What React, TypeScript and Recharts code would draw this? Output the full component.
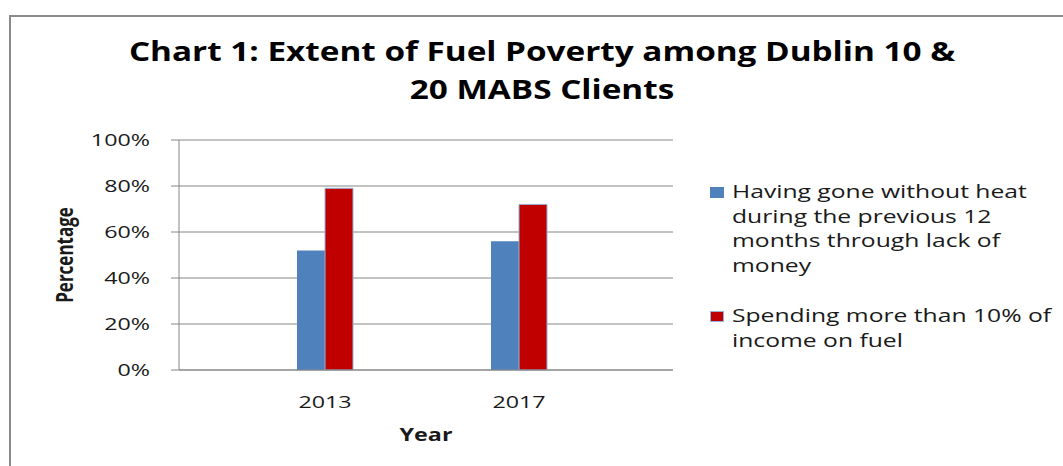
import { BarChart, Bar, XAxis, YAxis, CartesianGrid } from 'recharts';

const years = ['2013', '2017'];
const withoutHeat = [52, 56];
const overTenPercent = [79, 72];
const yTicks = [0, 20, 40, 60, 80, 100];
const seriesNames = [
  'Having gone without heat during the previous 12 months through lack of money',
  'Spending more than 10% of income on fuel',
];
const titleLines = ['Chart 1: Extent of Fuel Poverty among Dublin 10 &', '20 MABS Clients'];

const BLUE = '#4F81BD';
const RED = '#C00000';
const GRID = '#868686';
const TEXT = '#1a1a1a';
const FONT = '"Open Sans", sans-serif';
const STRETCH = 1.37;

const data = years.map((year, i) => ({
  year,
  withoutHeat: withoutHeat[i],
  overTenPercent: overTenPercent[i],
}));

const YTick = ({ x, y, payload }: any) => (
  <text
    transform={`translate(${x},${y}) scale(${STRETCH},1)`}
    textAnchor="end"
    dy="0.36em"
    fontFamily={FONT}
    fontSize={17}
    fill={TEXT}
  >
    {payload.value}%
  </text>
);

const XTick = ({ x, y, payload }: any) => (
  <text
    transform={`translate(${x},${y + 38}) scale(${STRETCH},1)`}
    textAnchor="middle"
    fontFamily={FONT}
    fontSize={17}
    fill={TEXT}
  >
    {payload.value}
  </text>
);

const XTitle = ({ viewBox }: any) => (
  <text
    transform={`translate(${viewBox.x + viewBox.width / 2},${viewBox.y + 71}) scale(${STRETCH},1)`}
    textAnchor="middle"
    fontFamily={FONT}
    fontWeight="bold"
    fontSize={17}
    fill={TEXT}
  >
    Year
  </text>
);

const YTitle = () => (
  <text
    transform={`translate(65,255) rotate(-90) scale(1,${STRETCH})`}
    textAnchor="middle"
    dy="0.36em"
    fontFamily={FONT}
    fontWeight="bold"
    fontSize={17}
    fill={TEXT}
  >
    Percentage
  </text>
);

const colors = [BLUE, RED];

export default function App() {
  return (
    <div style={{ position: 'fixed', left: 0, top: 0, width: 1063, height: 466, background: '#fff', overflow: 'hidden' }}>
      <div
        style={{
          position: 'absolute',
          left: 9,
          top: 15,
          width: 1200,
          height: 600,
          borderTop: '2px solid #8a8a8a',
          borderLeft: '2px solid #8a8a8a',
        }}
      />
      {titleLines.map((line, i) => (
        <div
          key={line}
          style={{
            position: 'absolute',
            left: 542,
            top: 33 + i * 38,
            transform: `translateX(-50%) scaleX(1.28)`,
            whiteSpace: 'nowrap',
            fontFamily: FONT,
            fontWeight: 'bold',
            fontSize: 26,
            lineHeight: '36px',
            color: '#000',
          }}
        >
          {line}
        </div>
      ))}
      <div style={{ position: 'absolute', left: 0, top: 0 }}>
        <BarChart
          width={1063}
          height={466}
          data={data}
          margin={{ top: 140, right: 390, bottom: 36, left: 119 }}
          barGap={0}
        >
          <CartesianGrid vertical={false} stroke={GRID} />
          <XAxis
            dataKey="year"
            height={60}
            padding={{ left: 49, right: 57 }}
            stroke={GRID}
            tickLine={false}
            tickSize={0}
            tickMargin={0}
            tick={<XTick />}
            label={<XTitle />}
          />
          <YAxis
            width={60}
            domain={[0, 100]}
            ticks={yTicks}
            interval={0}
            stroke={GRID}
            tickSize={8}
            tickMargin={21}
            tick={<YTick />}
            label={<YTitle />}
          />
          <Bar dataKey="withoutHeat" name={seriesNames[0]} fill={BLUE} barSize={28} isAnimationActive={false} />
          <Bar
            dataKey="overTenPercent"
            name={seriesNames[1]}
            fill={RED}
            stroke="#95B3D7"
            strokeWidth={1}
            barSize={28}
            isAnimationActive={false}
          />
        </BarChart>
      </div>
      <div
        style={{
          position: 'absolute',
          left: 710,
          top: 179,
          display: 'flex',
          flexDirection: 'column',
          gap: 26,
          fontFamily: FONT,
          fontSize: 18,
          lineHeight: '24.5px',
          color: TEXT,
        }}
      >
        {seriesNames.map((name, i) => (
          <div key={name} style={{ position: 'relative', paddingLeft: 22 }}>
            <div
              style={{
                position: 'absolute',
                left: 0,
                top: 8,
                width: 14,
                height: 11,
                background: colors[i],
                border: i === 1 ? '1px solid #95B3D7' : 'none',
                boxSizing: 'border-box',
              }}
            />
            <div style={{ width: 240, transform: `scaleX(${STRETCH})`, transformOrigin: 'left top' }}>{name}</div>
          </div>
        ))}
      </div>
    </div>
  );
}
